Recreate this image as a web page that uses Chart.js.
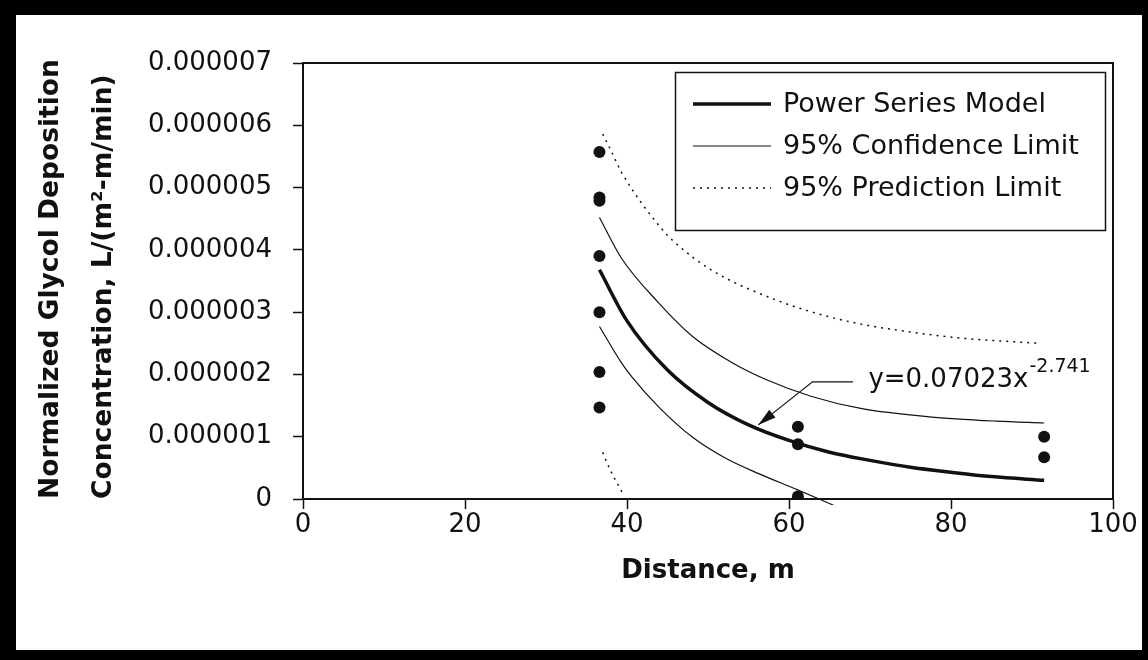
<!DOCTYPE html>
<html>
<head>
<meta charset="utf-8">
<title>Normalized Glycol Deposition vs Distance</title>
<script src="https://cdn.jsdelivr.net/npm/chart.js@4.4.0/dist/chart.umd.min.js"></script>
<style>
  html, body { margin: 0; padding: 0; background: #fff; }
  canvas { display: block; }
</style>
</head>
<body>
<canvas id="chart" width="1148" height="660"></canvas>
<script>
// measured concentrations, L/(m2-m/min)
const sampleX = [36.6, 36.6, 36.6, 36.6, 36.6, 36.6, 36.6, 61.1, 61.1, 61.1, 91.5, 91.5];
const sampleY = [5.57e-6, 4.84e-6, 4.79e-6, 3.90e-6, 3.00e-6, 2.04e-6, 1.47e-6,
                 1.16e-6, 0.88e-6, 0.04e-6, 1.00e-6, 0.67e-6];

// power series model y=0.07023x^-2.741
const modelX = [36.6, 40, 45, 50, 55, 60, 65, 70, 75, 80, 85, 91.5];
const modelY = [3.68e-6, 2.86e-6, 2.07e-6, 1.55e-6, 1.19e-6, 0.94e-6, 0.75e-6,
                0.62e-6, 0.51e-6, 0.43e-6, 0.36e-6, 0.30e-6];

// 95% confidence limits
const confUpperX = [36.6, 39.3, 43.9, 48.1, 53.1, 57.3, 62.7, 69.0, 77.3, 85.6, 91.5];
const confUpperY = [4.52e-6, 3.87e-6, 3.15e-6, 2.61e-6, 2.18e-6, 1.91e-6,
                    1.65e-6, 1.45e-6, 1.32e-6, 1.25e-6, 1.22e-6];
const confLowerX = [36.6, 39.3, 40.6, 43.9, 48.1, 52.3, 56.4, 61.0, 65.5];
const confLowerY = [2.77e-6, 2.19e-6, 1.96e-6, 1.48e-6, 0.99e-6, 0.645e-6, 0.40e-6, 0.15e-6, -0.10e-6];

// 95% prediction limits
const predUpperX = [37.0, 38.0, 39.3, 44.2, 45.9, 50.5, 58.5, 64.8, 69.6, 76.2, 81.5, 90.9];
const predUpperY = [5.86e-6, 5.60e-6, 5.25e-6, 4.35e-6, 4.12e-6, 3.67e-6, 3.19e-6,
                    2.93e-6, 2.79e-6, 2.66e-6, 2.58e-6, 2.50e-6];
const predLowerX = [37.0, 37.5, 38.0, 38.5, 39.3, 39.6];
const predLowerY = [0.75e-6, 0.59e-6, 0.45e-6, 0.32e-6, 0.13e-6, 0.05e-6];

const xTicks = [0, 20, 40, 60, 80, 100];
const yTickStep = 1e-6;

const FONT = 'DejaVu Sans';
const INK = '#111';

const zip = (xs, ys) => xs.map((x, i) => ({ x: x, y: ys[i] }));

function curve(label, xs, ys, width, dash) {
    return {
        label: label,
        data: zip(xs, ys),
        showLine: true,
        borderColor: INK,
        borderWidth: width,
        borderDash: dash,
        pointRadius: 0,
        cubicInterpolationMode: 'monotone',
        clip: 6
    };
}

const datasets = [
    curve('Power Series Model', modelX, modelY, 3.5, []),
    curve('95% Confidence Limit', confUpperX, confUpperY, 1.2, []),
    curve('95% Confidence Limit', confLowerX, confLowerY, 1.2, []),
    curve('95% Prediction Limit', predUpperX, predUpperY, 1.5, [2, 5]),
    curve('95% Prediction Limit', predLowerX, predLowerY, 1.5, [2, 5]),
    {
        label: 'Data',
        data: zip(sampleX, sampleY),
        pointRadius: 6,
        pointBackgroundColor: INK,
        pointBorderWidth: 0,
        showLine: false
    }
];

// frame, plot box, legend and the equation call-out
const decorations = {
    id: 'decorations',
    beforeDraw(chart) {
        const ctx = chart.ctx;
        ctx.save();
        ctx.fillStyle = '#fff';
        ctx.fillRect(0, 0, chart.width, chart.height);
        ctx.restore();
    },
    afterDatasetsDraw(chart) {
        const ctx = chart.ctx;
        const area = chart.chartArea;
        const xs = chart.scales.x, ys = chart.scales.y;
        ctx.save();

        // plot box
        ctx.strokeStyle = INK;
        ctx.lineWidth = 2;
        ctx.strokeRect(area.left, area.top, area.right - area.left, area.bottom - area.top);

        // legend
        const entries = [datasets[0], datasets[1], datasets[3]];
        ctx.fillStyle = '#fff';
        ctx.fillRect(675, 72, 431, 159);
        ctx.lineWidth = 1.5;
        ctx.strokeRect(675.5, 72.5, 430, 158);
        ctx.font = '27px "' + FONT + '"';
        ctx.textBaseline = 'middle';
        ctx.textAlign = 'left';
        entries.forEach((ds, i) => {
            const y = 104 + i * 42;
            ctx.lineWidth = ds.borderWidth;
            ctx.setLineDash(ds.borderDash);
            ctx.beginPath();
            ctx.moveTo(693, y);
            ctx.lineTo(771, y);
            ctx.stroke();
            ctx.setLineDash([]);
            ctx.fillStyle = INK;
            ctx.fillText(ds.label, 783, y + 1);
        });

        // equation with leader arrow
        const tip = [xs.getPixelForValue(56.2), ys.getPixelForValue(1.19e-6)];
        const elbow = [xs.getPixelForValue(62.9), ys.getPixelForValue(1.88e-6)];
        const lead = [xs.getPixelForValue(67.9), elbow[1]];
        ctx.lineWidth = 1.2;
        ctx.beginPath();
        ctx.moveTo(lead[0], lead[1]);
        ctx.lineTo(elbow[0], elbow[1]);
        ctx.lineTo(tip[0], tip[1]);
        ctx.stroke();
        const ang = Math.atan2(tip[1] - elbow[1], tip[0] - elbow[0]);
        const len = 18, half = 5;
        const bx = tip[0] - len * Math.cos(ang), by = tip[1] - len * Math.sin(ang);
        ctx.beginPath();
        ctx.moveTo(tip[0], tip[1]);
        ctx.lineTo(bx + half * Math.sin(ang), by - half * Math.cos(ang));
        ctx.lineTo(bx - half * Math.sin(ang), by + half * Math.cos(ang));
        ctx.closePath();
        ctx.fillStyle = INK;
        ctx.fill();

        const tx = xs.getPixelForValue(69.8), ty = elbow[1] - 2;
        ctx.font = '26px "' + FONT + '"';
        ctx.fillText('y=0.07023x', tx, ty);
        const w = ctx.measureText('y=0.07023x').width;
        ctx.font = '19px "' + FONT + '"';
        ctx.fillText('-2.741', tx + w + 1, ty - 13);

        ctx.restore();
    },
    afterDraw(chart) {
        // thick black picture frame
        const ctx = chart.ctx;
        ctx.save();
        ctx.fillStyle = '#000';
        ctx.fillRect(0, 0, chart.width, 15);
        ctx.fillRect(0, 0, 16, chart.height);
        ctx.fillRect(chart.width - 6, 0, 6, chart.height);
        ctx.fillRect(0, chart.height - 10, chart.width, 10);
        ctx.restore();
    }
};

new Chart(document.getElementById('chart'), {
    type: 'scatter',
    data: { datasets: datasets },
    plugins: [decorations],
    options: {
        responsive: false,
        animation: false,
        layout: { padding: { left: 0, top: 63, right: 35, bottom: 0 } },
        plugins: {
            legend: { display: false },
            tooltip: { enabled: false }
        },
        scales: {
            x: {
                type: 'linear',
                min: 0,
                max: 100,
                afterFit: (s) => { s.height = 161; },
                afterBuildTicks: (s) => { s.ticks = xTicks.map(v => ({ value: v })); },
                ticks: {
                    color: INK,
                    padding: 1,
                    font: { family: FONT, size: 26 }
                },
                grid: { drawOnChartArea: false, drawTicks: true, tickLength: 10, tickColor: INK, tickWidth: 1.5 },
                border: { display: true, color: INK, width: 2 },
                title: {
                    display: true,
                    text: 'Distance, m',
                    color: INK,
                    font: { family: FONT, size: 26, weight: 'bold', lineHeight: 1.2 },
                    padding: { top: 0, bottom: 73 }
                }
            },
            y: {
                type: 'linear',
                min: 0,
                max: 7e-6,
                afterFit: (s) => { s.width = 303; },
                ticks: {
                    stepSize: yTickStep,
                    color: INK,
                    padding: 21,
                    font: { family: FONT, size: 26 },
                    callback: (v) => v === 0 ? '0' : v.toFixed(6)
                },
                grid: { drawOnChartArea: false, drawTicks: true, tickLength: 10, tickColor: INK, tickWidth: 1.5 },
                border: { display: true, color: INK, width: 2 },
                title: {
                    display: true,
                    align: 'start',
                    text: ['Normalized Glycol Deposition', 'Concentration, L/(m\u00B2-m/min)'],
                    color: INK,
                    font: { family: FONT, size: 26.5, weight: 'bold', lineHeight: 2 },
                    padding: { top: 25, bottom: 0 }
                }
            }
        }
    }
});
</script>
</body>
</html>
